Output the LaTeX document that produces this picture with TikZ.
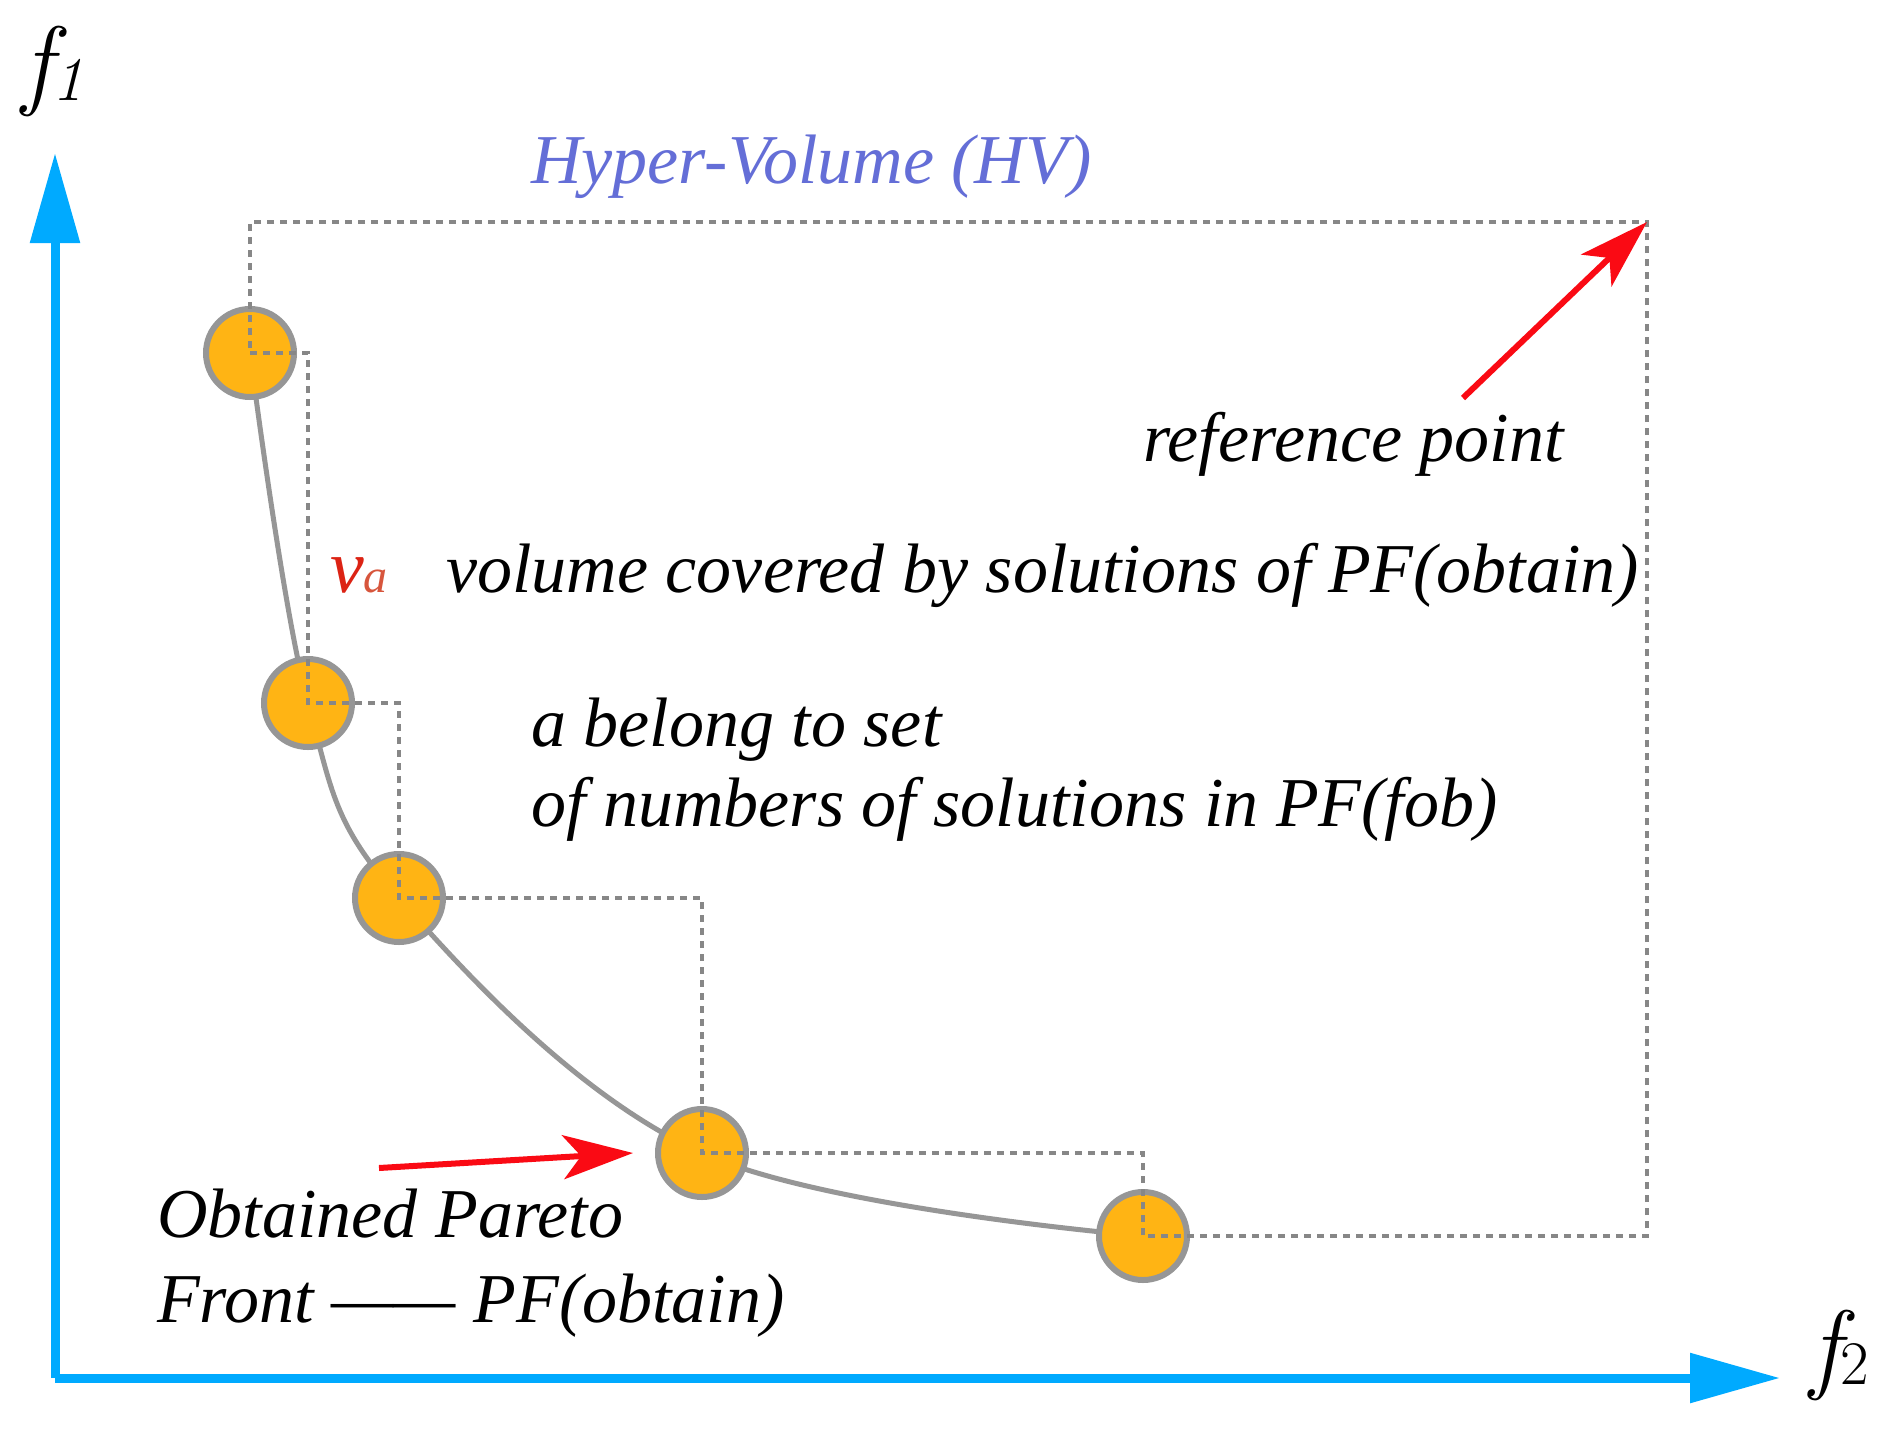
\documentclass[tikz,border=0pt]{standalone}
\usepackage{fontspec}
\setmainfont{Liberation Serif}
\newfontfamily\lmfont{Latin Modern Roman}
\usetikzlibrary{arrows.meta}
\definecolor{axisblue}{RGB}{0,170,255}
\definecolor{dotorange}{RGB}{255,180,20}
\definecolor{curvegray}{RGB}{150,150,150}
\definecolor{dotgray}{RGB}{135,135,135}
\definecolor{arrred}{RGB}{250,10,20}
\definecolor{hvblue}{RGB}{100,110,215}
\definecolor{vred}{RGB}{220,35,20}
\definecolor{ared}{RGB}{215,85,60}
\tikzset{
  axisline/.style={line width=9pt, axisblue, -{Triangle[length=90pt,width=48pt]}},
  solpt/.style={circle, fill=dotorange, draw=curvegray, line width=6pt, minimum size=88pt, inner sep=0pt},
  frontcurve/.style={curvegray, line width=5pt},
  hvbox/.style={dotgray, line width=3.5pt, dash pattern=on 7pt off 6pt},
  redarrow/.style={arrred, line width=6pt, -{Stealth[length=70pt,width=44pt,inset=18pt]}},
  lbl/.style={anchor=base west, inner sep=0pt, font=\fontsize{70}{80}\selectfont\itshape},
  axlbl/.style={anchor=base west, inner sep=0pt, font=\lmfont\fontsize{100}{110}\selectfont}
}
\begin{document}
\begin{tikzpicture}[x=1pt,y=-1pt]
\path[use as bounding box, fill=white] (0,0) rectangle (1891,1433);
% axes
\coordinate (O) at (55,1378);
\coordinate (ytip) at (55,153);
\coordinate (xtip) at (1780,1378);
\draw[axisline] (O) -- (ytip);
\draw[axisline] (O) -- (xtip);
\node[axlbl] (f1) at (22,96) {\itshape f\raisebox{-4pt}{\fontsize{62}{70}\selectfont 1}};
\node[axlbl] (f2) at (1810,1380) {\itshape f\raisebox{-4pt}{\upshape\fontsize{62}{70}\selectfont 2}};
% front points
\coordinate (p1) at (250,353);
\coordinate (p2) at (308,703);
\coordinate (p3) at (399,898);
\coordinate (p4) at (702,1153);
\coordinate (p5) at (1143,1236);
\coordinate (ref) at (1647,222);
\draw[frontcurve] plot[smooth, tension=0.6] coordinates {(p1) (p2) (p3) (p4) (p5)};
\node[solpt] (c1) at (p1) {};
\node[solpt] (c2) at (p2) {};
\node[solpt] (c3) at (p3) {};
\node[solpt] (c4) at (p4) {};
\node[solpt] (c5) at (p5) {};
% hypervolume outline
\draw[hvbox] (c1.center) -| (c2.center) -| (c3.center) -| (c4.center) -| (c5.center) -| (ref) -| (c1.center);
% texts
\node[lbl, text=hvblue] (hv) at (531,183) {Hyper-Volume (HV)};
\node[lbl] (reftxt) at (1143,461) {reference point};
\node[lbl] (va) at (330,592) {\textcolor{vred}{\fontsize{76}{80}\selectfont v}\textcolor{ared}{\fontsize{48}{56}\selectfont a}};
\node[lbl] (vol) at (446,592) {volume covered by solutions of PF(obtain)};
\node[lbl] (bel1) at (531,746) {a belong to set};
\node[lbl] (bel2) at (531,826) {of numbers of solutions in PF(fob)};
\node[lbl] (opf1) at (157,1237) {Obtained Pareto};
\node[lbl] (opf2) at (157,1322) {Front —— PF(obtain)};
% red arrows
\coordinate (rtail) at (1463,398);
\coordinate (otail) at (379,1168);
\coordinate (otip) at (633,1153);
\draw[redarrow] (rtail) -- (ref);
\draw[redarrow] (otail) -- (otip);
\end{tikzpicture}
\end{document}
